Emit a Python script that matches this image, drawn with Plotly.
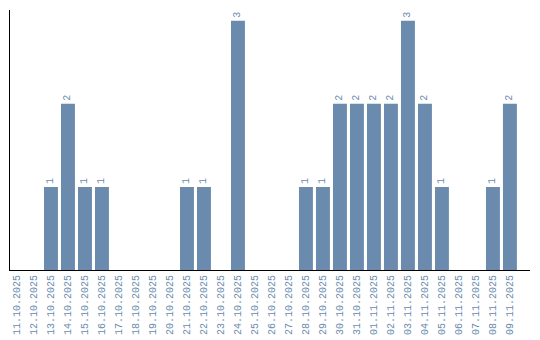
import plotly.graph_objects as go

dates = ["11.10.2025", "12.10.2025", "13.10.2025", "14.10.2025", "15.10.2025",
         "16.10.2025", "17.10.2025", "18.10.2025", "19.10.2025", "20.10.2025",
         "21.10.2025", "22.10.2025", "23.10.2025", "24.10.2025", "25.10.2025",
         "26.10.2025", "27.10.2025", "28.10.2025", "29.10.2025", "30.10.2025",
         "31.10.2025", "01.11.2025", "02.11.2025", "03.11.2025", "04.11.2025",
         "05.11.2025", "06.11.2025", "07.11.2025", "08.11.2025", "09.11.2025"]
counts = [0, 0, 1, 2, 1, 1, 0, 0, 0, 0,
          1, 1, 0, 3, 0, 0, 0, 1, 1, 2,
          2, 2, 2, 3, 2, 1, 0, 0, 1, 2]

color = "#6a8bad"
font = "Liberation Mono"

labels = [str(v) if v > 0 else "" for v in counts]

fig = go.Figure(go.Bar(
    x=dates, y=counts, marker_color=color, marker_line_width=0,
    text=labels, textposition="outside", textangle=-90,
    textfont=dict(family=font, size=10, color=color),
    cliponaxis=False, width=0.82,
))
fig.update_layout(
    width=540, height=340,
    margin=dict(l=10, r=10, t=10, b=70),
    plot_bgcolor="white", paper_bgcolor="white",
    showlegend=False,
    bargap=0.18,
)
fig.update_xaxes(
    type="category", range=[-0.41, 30.18], automargin=False,
    showline=True, linecolor="black", linewidth=1,
    showgrid=False, ticks="", tickangle=-90,
    tickfont=dict(family=font, size=10, color=color),
)
fig.update_yaxes(
    range=[0, 3.13], automargin=False,
    showline=True, linecolor="black", linewidth=1,
    showgrid=False, showticklabels=False, ticks="", zeroline=False,
)
fig.write_html("out.html")
